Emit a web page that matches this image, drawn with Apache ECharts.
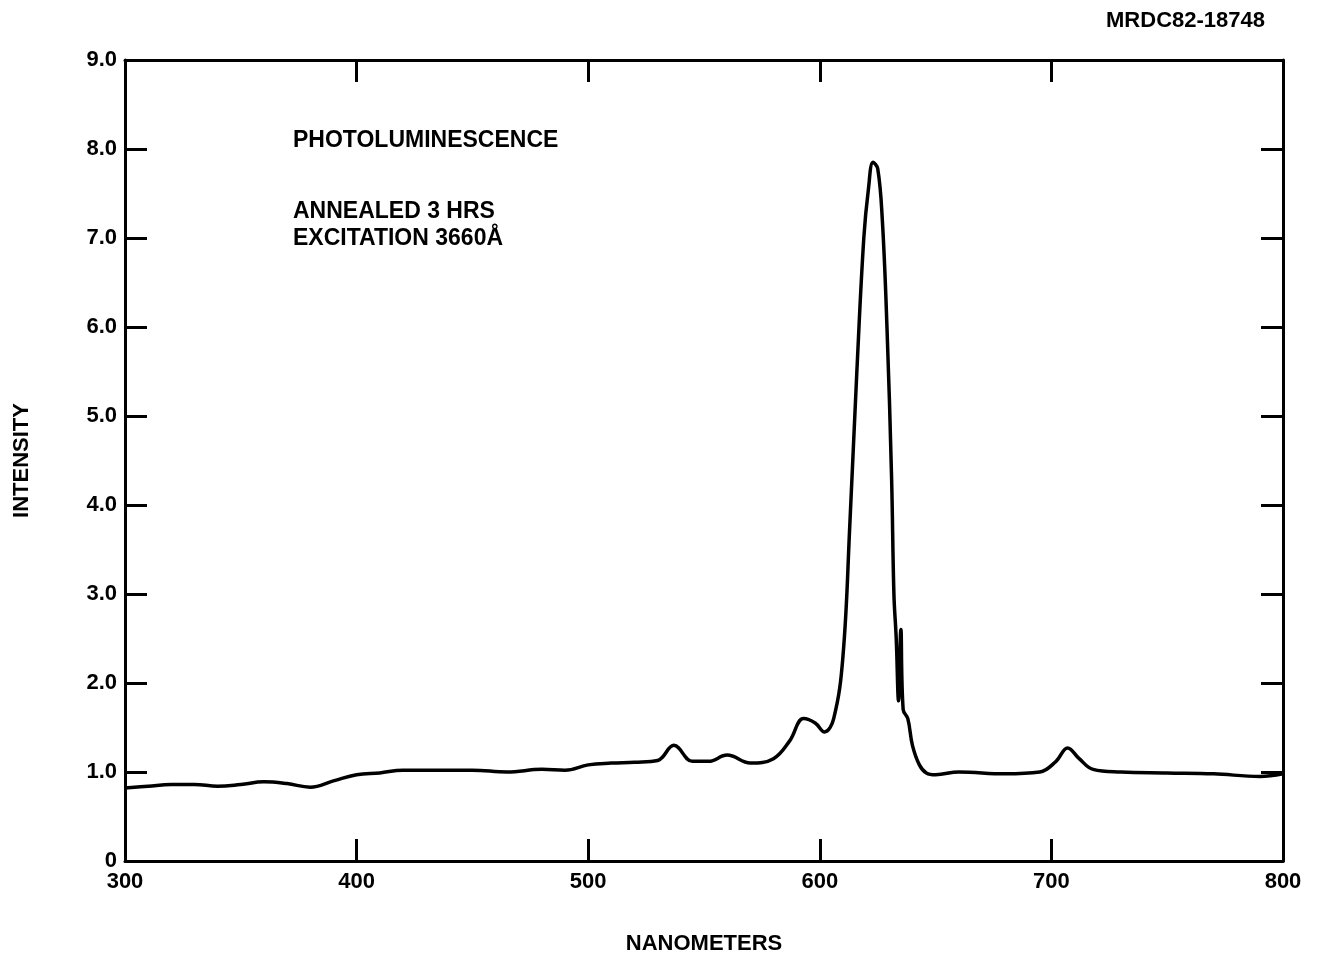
<!DOCTYPE html>
<html><head><meta charset="utf-8">
<script src="https://cdn.jsdelivr.net/npm/echarts@6/dist/echarts.min.js"></script>
<style>html,body{margin:0;background:#fff}#c{width:1320px;height:960px}</style>
</head><body><div id="c"></div>
<script>
const wavelengths=[300,310,320,330,340,350,360,370,380,390,400,410,420,435,450,465,480,490,500,510,520,530,537,545,552,560,570,580,587,593,598,602,606,610,613,616,619,621,623,625,627,629,631,632,633,634,635,636,638,640,643,646,650,660,680,695,702,707,712,718,730,750,770,790,800];
const intensity=[0.82,0.84,0.86,0.86,0.84,0.86,0.89,0.87,0.83,0.9,0.97,0.99,1.02,1.02,1.02,1.0,1.03,1.02,1.08,1.1,1.11,1.13,1.3,1.12,1.12,1.19,1.1,1.15,1.35,1.6,1.55,1.45,1.6,2.3,3.8,5.5,7.0,7.55,7.85,7.78,7.2,6.0,4.3,3.0,2.5,1.8,2.6,1.7,1.6,1.3,1.08,0.99,0.97,1.0,0.98,1.0,1.12,1.27,1.15,1.03,1.0,0.99,0.98,0.95,0.98];
const yTicks=[0,1,2,3,4,5,6,7,8,9];
const xTicks=[300,400,500,600,700,800];
const chart=echarts.init(document.getElementById('c'));
const font='Liberation Sans';
const tick={inside:true,length:22,lineStyle:{color:'#000',width:3}};
const line={show:true,onZero:false,lineStyle:{color:'#000',width:3}};
chart.setOption({
 animation:false,
 grid:{left:125,right:37,top:60,bottom:98},
 xAxis:[{type:'value',min:300,max:800,interval:100,
  axisLine:line,axisTick:tick,
  axisLabel:{color:'#000',fontFamily:font,fontWeight:'bold',fontSize:22,margin:10,formatter:v=>xTicks.includes(v)?String(v):''},
  splitLine:{show:false},
  name:'NANOMETERS',nameLocation:'middle',nameGap:72,
  nameTextStyle:{color:'#000',fontFamily:font,fontWeight:'bold',fontSize:22}},
  {type:'value',min:300,max:800,interval:100,position:'top',
  axisLine:line,axisTick:tick,axisLabel:{show:false},splitLine:{show:false}}],
 yAxis:[{type:'value',min:0,max:9,interval:1,
  axisLine:line,axisTick:tick,
  axisLabel:{color:'#000',fontFamily:font,fontWeight:'bold',fontSize:22,margin:8,formatter:v=>yTicks.includes(v)?(v===0?'0':v.toFixed(1)):''},
  splitLine:{show:false},
  name:'INTENSITY',nameLocation:'middle',nameGap:92,
  nameTextStyle:{color:'#000',fontFamily:font,fontWeight:'bold',fontSize:22}},
  {type:'value',min:0,max:9,interval:1,position:'right',
  axisLine:line,axisTick:tick,axisLabel:{show:false},splitLine:{show:false}}],
 graphic:[
  {type:'text',right:55,top:10,style:{text:'MRDC82-18748',font:'bold 22px "Liberation Sans"',fill:'#000'}},
  {type:'text',left:293,top:129,style:{text:'PHOTOLUMINESCENCE',font:'bold 23px "Liberation Sans"',fill:'#000'}},
  {type:'text',left:293,top:198,style:{text:'ANNEALED 3 HRS\nEXCITATION 3660Å',font:'bold 23px "Liberation Sans"',lineHeight:27,fill:'#000'}}
 ],
 series:[{type:'line',smooth:0.4,symbol:'none',data:wavelengths.map((w,i)=>[w,intensity[i]]),lineStyle:{color:'#000',width:3.5}}]
});
</script></body></html>
